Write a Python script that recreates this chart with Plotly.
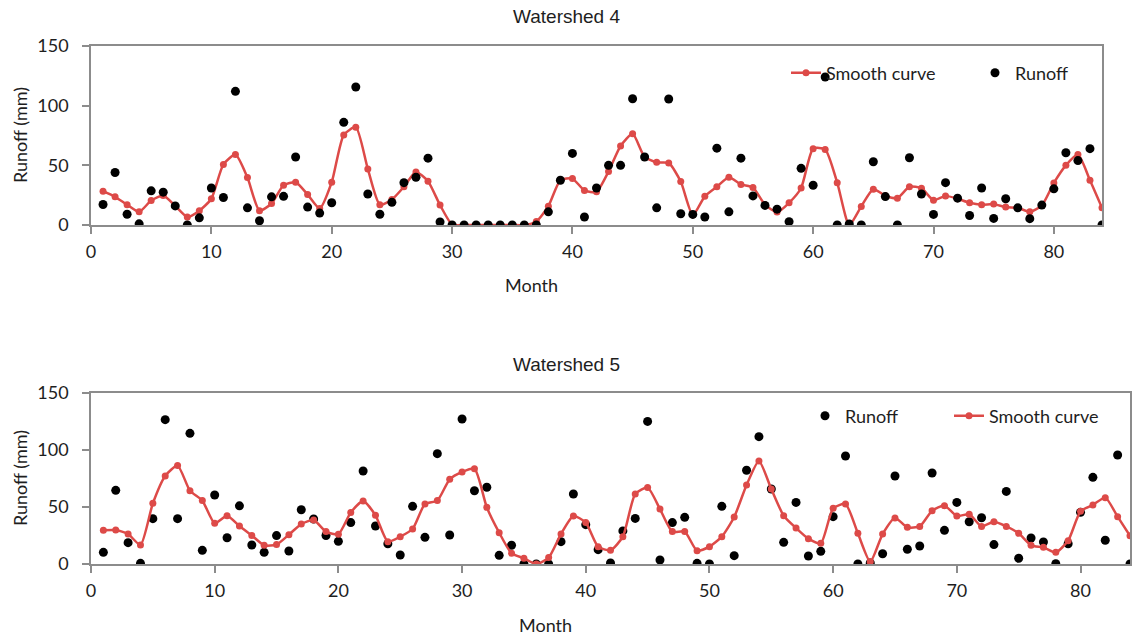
import plotly.graph_objects as go

months = list(range(1, 85))

ws4_runoff = [17.2, 44, 9, 1, 28.6, 27.5, 16, 0, 6, 31, 23, 112, 14.4, 3.6, 23.6, 24, 57, 15, 10, 18.6,
              86, 115.6, 26, 9, 19, 35.5, 40, 56, 2.5, 0, 0, 0, 0, 0, 0, 0, 0, 11, 37.5, 60,
              6.7, 31, 50, 50, 105.8, 57, 14.4, 105.6, 9.4, 8.9, 6.7, 64.4, 11, 56, 24.4, 16.4, 13.3, 2.8, 47.5, 33.3,
              124, 0, 0.8, 0, 53, 23.8, 0, 56.4, 26, 8.9, 35.5, 22.5, 8, 31, 5.5, 22, 14.4, 5.3, 16.7, 30.3,
              60.5, 54, 64, 0]
ws4_smooth = [28.3, 23.6, 17, 11, 20.5, 24.7, 16, 6.7, 12, 22, 50.8, 59, 39.7, 12, 18, 33.3, 35.8, 25.5, 13.9, 35.8,
              75.5, 82, 47, 17, 21.4, 32, 44.4, 36.7, 16.7, 0.5, 0, 0, 0, 0, 0, 0, 3, 15.8, 37.5, 38.9,
              29, 27.8, 44.8, 66.2, 76.4, 57, 52.5, 52, 36.4, 8.3, 24, 32, 40, 34, 31.4, 17, 10.8, 18.6, 31, 64,
              63.3, 35.5, 0, 15.6, 30, 24.5, 22.5, 32, 30.8, 20.8, 24.4, 22, 18.6, 17, 17.5, 15, 14.4, 11, 16.4, 35.3,
              50, 59, 37.5, 14.4]

ws5_runoff = [10.2, 64.6, 18.7, 0.6, 39.8, 126.6, 39.8, 114.6, 12, 60.5, 23, 51, 16.7, 10.2, 24.9, 11.4, 47.6, 39.5, 25, 19.9,
              36.3, 81.6, 33.3, 17.8, 7.9, 50.6, 23.4, 96.8, 25.4, 127.2, 64.3, 67.3, 7.6, 16.4, 0, 0, 0, 19.6, 61.4, 34.5,
              12.6, 0.9, 29, 40, 125.1, 3.5, 36.3, 40.9, 0.6, 0, 50.6, 7.3, 82.2, 111.7, 65.8, 19, 54, 7, 11.1, 41.5,
              94.7, 0, 0.9, 9, 77.2, 12.9, 15.8, 79.8, 29.5, 54, 37.1, 40.6, 17, 63.7, 5, 22.8, 19.3, 0.3, 17.8, 45.3,
              76, 20.8, 95.6, 0]
ws5_smooth = [29.5, 29.8, 26.3, 16.7, 53.2, 77.2, 86.3, 64.3, 55.6, 35.7, 42.4, 33.3, 25.1, 16.4, 17, 25.7, 35, 38.6, 28.4, 26.2,
              45.2, 55.3, 42.7, 19.6, 24, 30.7, 52.6, 55.6, 74.3, 80.7, 83.6, 49.7, 27.5, 9.4, 5, 0, 5.6, 26.3, 42.1, 36.3,
              15.2, 12, 24, 61.4, 67, 48.2, 28.4, 28.4, 11.7, 15.2, 24, 41.2, 69.3, 90.4, 65.8, 42.4, 31.6, 22.2, 18.1, 48.8,
              52.6, 26.9, 2, 26.3, 40.4, 32.2, 33, 46.8, 51.2, 42.1, 43.6, 33, 37.1, 33, 26.9, 16.4, 14.6, 10.2, 20.5, 46.2,
              51.8, 58.2, 41.5, 24.8]

x_ticks = [0, 10, 20, 30, 40, 50, 60, 70, 80]
y_ticks = [0, 50, 100, 150]

RED = "#DD4A48"
TXT = "#1E1E1E"
FONT = "Lato"
TITLE_FONT = "Liberation Sans"
W, H = 1141, 639

fig = go.Figure()

# Watershed 4
fig.add_trace(go.Scatter(x=months, y=ws4_smooth, mode="lines+markers", name="Smooth curve",
                         line=dict(color=RED, width=2.5, shape="spline", smoothing=0.6),
                         marker=dict(color=RED, size=7), xaxis="x", yaxis="y", legend="legend"))
fig.add_trace(go.Scatter(x=months, y=ws4_runoff, mode="markers", name="Runoff",
                         marker=dict(color="black", size=9), xaxis="x", yaxis="y", legend="legend2"))
# Watershed 5
fig.add_trace(go.Scatter(x=months, y=ws5_runoff, mode="markers", name="Runoff",
                         marker=dict(color="black", size=9), xaxis="x2", yaxis="y2", legend="legend3"))
fig.add_trace(go.Scatter(x=months, y=ws5_smooth, mode="lines+markers", name="Smooth curve",
                         line=dict(color=RED, width=2.5, shape="spline", smoothing=0.6),
                         marker=dict(color=RED, size=7), xaxis="x2", yaxis="y2", legend="legend4"))

def px_x(p):
    return p / W

def px_y(p):
    return 1 - p / H

axis_common = dict(showgrid=False, zeroline=False, showline=True, linecolor="#8C8C8C", linewidth=1.5,
                   mirror=True, ticks="outside", ticklen=7, tickcolor="#8C8C8C", tickwidth=1.5,
                   automargin=False, tickfont=dict(family=FONT, size=18, color=TXT))

legend_font = dict(family=FONT, size=18, color=TXT)

def legend_at(xpx, ypx):
    return dict(orientation="h", x=px_x(xpx), y=px_y(ypx), xanchor="left", yanchor="middle",
                font=legend_font, bgcolor="rgba(0,0,0,0)", borderwidth=0, itemwidth=30)

fig.update_layout(
    template="none",
    width=W, height=H,
    margin=dict(l=0, r=0, t=0, b=0, pad=0),
    paper_bgcolor="white", plot_bgcolor="white",
    showlegend=True,
    xaxis=dict(domain=[px_x(91), px_x(1102)], range=[0, 84], tickvals=x_ticks, anchor="y",
               ticklabelstandoff=3, **axis_common),
    yaxis=dict(domain=[px_y(225), px_y(46)], range=[0, 150], tickvals=y_ticks, anchor="x",
               ticklabelstandoff=10, **axis_common),
    xaxis2=dict(domain=[px_x(91), px_x(1130)], range=[0, 84], tickvals=x_ticks, anchor="y2",
                ticklabelstandoff=3, **axis_common),
    yaxis2=dict(domain=[px_y(564), px_y(393)], range=[0, 150], tickvals=y_ticks, anchor="x2",
                ticklabelstandoff=10, **axis_common),
    legend=legend_at(786, 73),
    legend2=legend_at(975, 73),
    legend3=legend_at(805, 416),
    legend4=legend_at(949, 416),
    annotations=[
        dict(text="Watershed 4", x=px_x(566), y=px_y(16), xref="paper", yref="paper", showarrow=False,
             xanchor="center", yanchor="middle", font=dict(family=TITLE_FONT, size=19, color=TXT)),
        dict(text="Watershed 5", x=px_x(566), y=px_y(364), xref="paper", yref="paper", showarrow=False,
             xanchor="center", yanchor="middle", font=dict(family=TITLE_FONT, size=19, color=TXT)),
        dict(text="Month", x=px_x(531), y=px_y(285), xref="paper", yref="paper", showarrow=False,
             xanchor="center", yanchor="middle", font=dict(family=FONT, size=18, color=TXT)),
        dict(text="Month", x=px_x(545), y=px_y(625), xref="paper", yref="paper", showarrow=False,
             xanchor="center", yanchor="middle", font=dict(family=FONT, size=18, color=TXT)),
        dict(text="Runoff (mm)", x=px_x(20), y=px_y(135), xref="paper", yref="paper", showarrow=False,
             xanchor="center", yanchor="middle", textangle=-90, font=dict(family=FONT, size=18, color=TXT)),
        dict(text="Runoff (mm)", x=px_x(20), y=px_y(478), xref="paper", yref="paper", showarrow=False,
             xanchor="center", yanchor="middle", textangle=-90, font=dict(family=FONT, size=18, color=TXT)),
    ],
)

fig.write_html("out.html")
